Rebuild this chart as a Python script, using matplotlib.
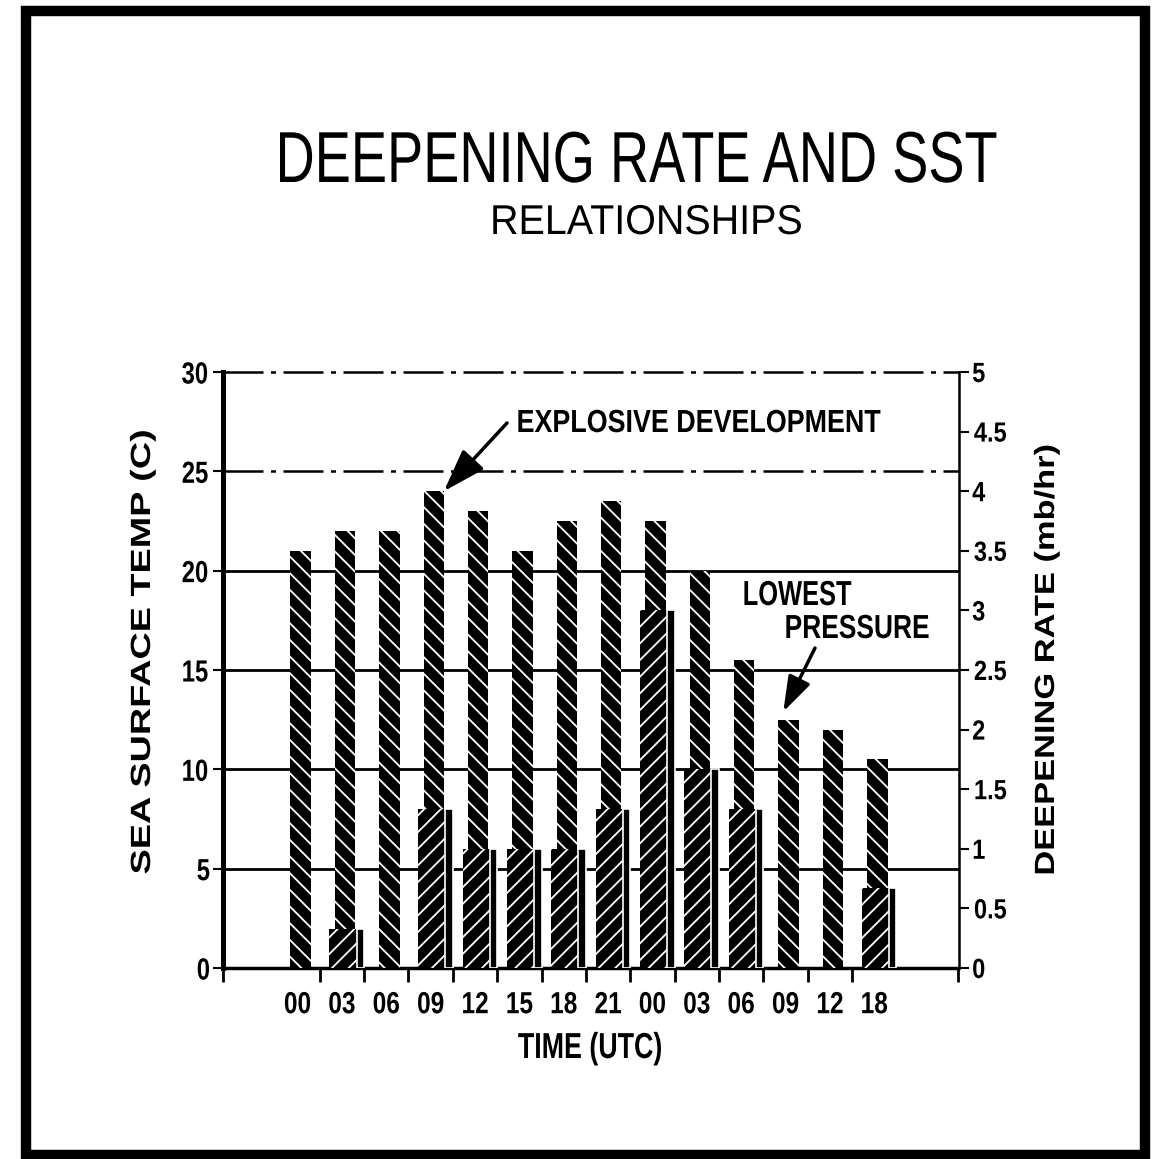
import numpy as np
import matplotlib
matplotlib.use('Agg')
import matplotlib.pyplot as plt
from matplotlib.patches import Rectangle
from matplotlib.patheffects import AbstractPathEffect
from matplotlib.transforms import Affine2D

# Data
#================================================================
times = ['00', '03', '06', '09', '12', '15', '18', '21', '00', '03', '06', '09', '12', '18']
sst = [21, 22, 22, 24, 23, 21, 22.5, 23.5, 22.5, 20, 15.5, 12.5, 12, 10.5]      # deg C
rate = [0, 0.33, 0, 1.33, 1.0, 1.0, 1.0, 1.33, 3.0, 1.67, 1.33, 0, 0, 0.67]     # mb/hr
sst_ticks = [0, 5, 10, 15, 20, 25, 30]
rate_ticks = [0, 0.5, 1, 1.5, 2, 2.5, 3, 3.5, 4, 4.5, 5]
grid_solid = [5, 10, 15, 20]
grid_dashdot = [25, 30]

# Layout helpers (reference is 1153 x 1159 px)
#================================================================
W, H = 1153, 1159

def px(x, y):
    return (x / W, 1 - y / H)


class Squeeze(AbstractPathEffect):
    """Scale glyphs along the text direction about their centre (narrow font look)."""
    def __init__(self, sx):
        super().__init__()
        self.sx = sx

    def draw_path(self, renderer, gc, tpath, affine, rgbFace=None):
        ext = tpath.get_extents()
        cx = (ext.x0 + ext.x1) / 2
        sq = Affine2D().translate(-cx, 0).scale(self.sx, 1).translate(cx, 0)
        renderer.draw_path(gc, tpath, sq + affine, rgbFace)


font = ['Liberation Sans', 'DejaVu Sans']
plt.rcParams['hatch.linewidth'] = 1.3

fig = plt.figure(figsize=(W / 100, H / 100), dpi=100)
ax = fig.add_axes([223 / W, 1 - 968 / H, 735.5 / W, 596 / H])
ax2 = ax.twinx()

x = np.arange(len(times))
xlo, xhi = -1.68, 14.9

# Bars
#================================================================
ax.bar(x + 0.07, sst, width=0.46, color='black', edgecolor='white', linewidth=0,
       hatch='\\\\', zorder=3)
ax2.bar(x + 0.025, rate, width=0.61, color='black', edgecolor='white', linewidth=0,
        hatch='//', zorder=3)
ax2.bar(x + 0.415, rate, width=0.17, color='black',
        edgecolor=['white' if r > 0 else 'none' for r in rate], linewidth=1.2, zorder=3)

# Grid lines
for v in grid_solid:
    ax.axhline(v, color='black', lw=2, zorder=1)
for v in grid_dashdot:
    ax.axhline(v, color='black', lw=1.8, ls=(0, (16, 3, 2, 3)), zorder=1, clip_on=False)

# Axes
#================================================================
ax.set_xlim(xlo, xhi)
ax.set_ylim(0, 30)
ax2.set_ylim(0, 5)

for s in ['top', 'right']:
    ax.spines[s].set_visible(False)
for s in ['top', 'left', 'bottom']:
    ax2.spines[s].set_visible(False)
ax.spines['left'].set_linewidth(3.6)
ax.spines['bottom'].set_linewidth(2.5)
ax2.spines['right'].set_linewidth(1.8)

ax.set_yticks(sst_ticks)
ax.set_yticklabels([str(v) for v in sst_ticks])
ax2.set_yticks(rate_ticks)
ax2.set_yticklabels(['%g' % v for v in rate_ticks])

ax.set_xticks(x)
ax.set_xticklabels(times)
ax.set_xticks([xlo] + list(x[:-1] + 0.5) + [xhi], minor=True)
ax.tick_params(axis='x', which='major', length=0, pad=16)
ax.tick_params(axis='x', which='minor', direction='out', length=10, width=2)
ax.tick_params(axis='y', direction='out', length=7, width=1.5, pad=1)
ax2.tick_params(axis='y', direction='out', length=7, width=1.5, pad=2)

for lab in ax.get_xticklabels():
    lab.set(fontfamily=font, fontweight='bold', fontsize=22, path_effects=[Squeeze(0.8)])
for lab in ax.get_yticklabels():
    lab.set(fontfamily=font, fontweight='bold', fontsize=22, path_effects=[Squeeze(0.78)])
for lab in ax2.get_yticklabels():
    lab.set(fontfamily=font, fontweight='bold', fontsize=20, path_effects=[Squeeze(0.85)])

# Texts: size from cap height, then squeezed to the width on the reference
#================================================================
texts = []
t = fig.text(*px(636, 182), 'DEEPENING RATE AND SST', family=font, ha='center', va='baseline', fontsize=52)
texts.append((t, 722))
t = fig.text(*px(646, 234), 'RELATIONSHIPS', family=font, ha='center', va='baseline', fontsize=30)
texts.append((t, 312))
t = fig.text(*px(699, 432), 'EXPLOSIVE DEVELOPMENT', family=font, weight='bold', ha='center', va='baseline', fontsize=23)
texts.append((t, 365))
t = fig.text(*px(797, 605), 'LOWEST', family=font, weight='bold', ha='center', va='baseline', fontsize=25)
texts.append((t, 109))
t = fig.text(*px(857, 638), 'PRESSURE', family=font, weight='bold', ha='center', va='baseline', fontsize=24)
texts.append((t, 145))
t = fig.text(*px(590, 1058), 'TIME (UTC)', family=font, weight='bold', ha='center', va='baseline', fontsize=26)
texts.append((t, 144))
t = fig.text(*px(143, 652), 'SEA SURFACE TEMP (C)', family=font, weight='bold', rotation=90,
             ha='center', va='center', fontsize=20)
texts.append((t, 445))
t = fig.text(*px(1047, 660), 'DEEPENING RATE (mb/hr)', family=font, weight='bold', rotation=90,
             ha='center', va='center', fontsize=20)
texts.append((t, 431))

renderer = fig.canvas.get_renderer()
for t, target in texts:
    bb = t.get_window_extent(renderer)
    size = bb.height if t.get_rotation() == 90 else bb.width
    t.set_path_effects([Squeeze(target / size)])

# Arrows
ax.annotate('', xy=(x[3] + 0.3, sst[3]), xycoords='data',
            xytext=px(507, 423), textcoords='figure fraction',
            arrowprops=dict(arrowstyle='-|>,head_length=1.2,head_width=0.4', lw=2.5,
                            color='black', mutation_scale=22, shrinkA=0, shrinkB=0))
ax.annotate('', xy=(x[11] - 0.05, sst[11] + 0.4), xycoords='data',
            xytext=px(815, 648), textcoords='figure fraction',
            arrowprops=dict(arrowstyle='-|>,head_length=1.2,head_width=0.4', lw=2.5,
                            color='black', mutation_scale=18, shrinkA=0, shrinkB=0))

# Outer frame
fig.patches.append(Rectangle(px(26, 1155), (1145 - 26) / W, (1155 - 11) / H,
                             transform=fig.transFigure, fill=False, lw=7.5, ec='black'))

fig.savefig('out.png', dpi=100)
